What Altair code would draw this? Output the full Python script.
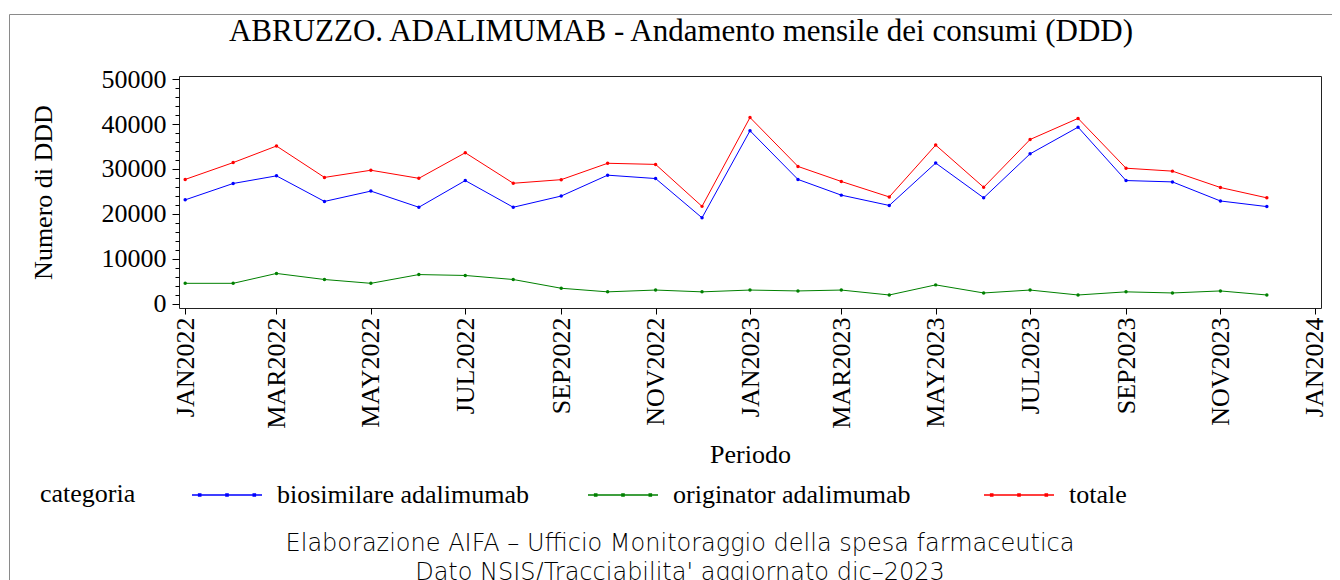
import altair as alt
import pandas as pd

# ---------------- data ----------------
MESI = ["2022-01-01", "2022-02-01", "2022-03-01", "2022-04-01", "2022-05-01", "2022-06-01",
        "2022-07-01", "2022-08-01", "2022-09-01", "2022-10-01", "2022-11-01", "2022-12-01",
        "2023-01-01", "2023-02-01", "2023-03-01", "2023-04-01", "2023-05-01", "2023-06-01",
        "2023-07-01", "2023-08-01", "2023-09-01", "2023-10-01", "2023-11-01", "2023-12-01"]
CATEGORIE = ["biosimilare adalimumab", "originator adalimumab", "totale"]
BIOSIMILARE = [23100, 26750, 28450, 22750, 25050, 21450, 27400, 21450, 23950, 28600, 27850, 19100,
               38500, 27650, 24150, 21850, 31300, 23550, 33350, 39300, 27400, 27100, 22850, 21600]
ORIGINATOR = [4500, 4500, 6700, 5350, 4500, 6450, 6250, 5350, 3400, 2600, 3000, 2600,
              3000, 2800, 3000, 1900, 4150, 2350, 3000, 1900, 2600, 2350, 2800, 1900]
TOTALE = [27650, 31400, 35100, 28100, 29700, 27900, 33600, 26800, 27600, 31250, 31000, 21650,
          41450, 30550, 27200, 23750, 35300, 25900, 36550, 41250, 30150, 29500, 25850, 23550]
COLORI = ["#0000ff", "#008000", "#ff0000"]

TICK_MESI = ["2022-01", "2022-03", "2022-05", "2022-07", "2022-09", "2022-11",
             "2023-01", "2023-03", "2023-05", "2023-07", "2023-09", "2023-11", "2024-01"]
Y_MAJOR = [0, 10000, 20000, 30000, 40000, 50000]
Y_MINOR = [2000, 4000, 6000, 8000, 12000, 14000, 16000, 18000, 22000, 24000, 26000, 28000,
           32000, 34000, 36000, 38000, 42000, 44000, 46000, 48000]

TITOLO = "ABRUZZO. ADALIMUMAB - Andamento mensile dei consumi (DDD)"
LEGENDA_TITOLO = "categoria"
NOTE = ["Elaborazione AIFA \u2013 Ufficio Monitoraggio della spesa farmaceutica",
        "Dato NSIS/Tracciabilita' aggiornato dic\u20132023"]

rows = []
for cat, serie in zip(CATEGORIE, [BIOSIMILARE, ORIGINATOR, TOTALE]):
    for m, v in zip(MESI, serie):
        rows.append({"mese": m, "categoria": cat, "ddd": v})
df = pd.DataFrame(rows)


def dt(s, day=1):
    y, m = s.split("-")[:2]
    return alt.DateTime(year=int(y), month=int(m), date=day, utc=True)


SERIF = "Liberation Serif"
X_SCALE = alt.Scale(type="utc", domain=[dt("2021-12", 28), dt("2024-01", 5)], nice=False)
Y_SCALE = alt.Scale(domain=[-1000, 50700], nice=False, zero=False)

X_AXIS = alt.Axis(values=[dt(t) for t in TICK_MESI],
                  labelExpr="upper(utcFormat(datum.value, '%b%Y'))",
                  labelAngle=270, labelAlign="right", labelBaseline="middle",
                  tickSize=6, labelPadding=3, labelOverlap=False, labelFlush=False,
                  title="Periodo", titlePadding=13)

LEG_PATH = ("M-1,0H1"
            "M-0.81,-0.03h0.06v0.06h-0.06z"
            "M-0.03,-0.03h0.06v0.06h-0.06z"
            "M0.75,-0.03h0.06v0.06h-0.06z")

# ---------------- layers ----------------
border = alt.Chart(pd.DataFrame({"k": [0]})).mark_rect(
    fill="transparent", stroke="#8a8a8a", strokeWidth=1
).encode(
    x=alt.value(-169.5), x2=alt.value(1400), y=alt.value(-61.5), y2=alt.value(700)
)

lines = alt.Chart(df).mark_line(
    strokeWidth=1, point=alt.OverlayMarkDef(filled=True, size=12)
).encode(
    x=alt.X("mese:T", scale=X_SCALE, axis=X_AXIS),
    y=alt.Y("ddd:Q", scale=Y_SCALE,
            axis=alt.Axis(values=Y_MAJOR, format="d", tickSize=7, labelPadding=6,
                          labelFlush=False, labelOverlap=False,
                          title="Numero di DDD", titlePadding=45)),
    color=alt.Color("categoria:N",
                    scale=alt.Scale(domain=CATEGORIE, range=COLORI),
                    legend=alt.Legend(title=None, orient="none", legendX=12, legendY=383,
                                      direction="horizontal", columns=3, gridAlign="all",
                                      labelFont=SERIF, labelFontSize=26, labelColor="black",
                                      labelLimit=0,
                                      labelOffset=14, columnPadding=56, padding=0,
                                      symbolType=LEG_PATH, symbolSize=4900,
                                      symbolStrokeWidth=1.5)),
)

minor = alt.Chart(df).mark_point(opacity=0).encode(
    x=alt.X("mese:T", scale=X_SCALE, axis=X_AXIS),
    y=alt.Y("ddd:Q", scale=Y_SCALE,
            axis=alt.Axis(orient="left", values=Y_MINOR, labels=False, tickSize=4,
                          title=None, domain=False, grid=False)),
)

title = alt.Chart(pd.DataFrame({"t": [TITOLO]})).mark_text(
    font=SERIF, fontSize=31, color="black", align="center", baseline="alphabetic"
).encode(text="t:N", x=alt.value(502), y=alt.value(-35))

leg_title = alt.Chart(pd.DataFrame({"t": [LEGENDA_TITOLO]})).mark_text(
    font=SERIF, fontSize=26, color="black", align="left", baseline="middle"
).encode(text="t:N", x=alt.value(-139), y=alt.value(418))

nota1 = alt.Chart(pd.DataFrame({"t": [NOTE[0]]})).mark_text(
    font="DejaVu Sans", fontWeight=200, fontSize=24, color="black", align="center",
    baseline="alphabetic"
).encode(text="t:N", x=alt.value(501), y=alt.value(475))

nota2 = alt.Chart(pd.DataFrame({"t": [NOTE[1]]})).mark_text(
    font="DejaVu Sans", fontWeight=200, fontSize=24, color="black", align="center",
    baseline="alphabetic"
).encode(text="t:N", x=alt.value(501), y=alt.value(504))

chart = alt.layer(border, lines, minor, title, leg_title, nota1, nota2).resolve_axis(
    y="independent"
).properties(
    width=1142, height=232,
    autosize=alt.AutoSizeParams(type="none"),
    padding={"left": 171, "top": 68, "right": 11, "bottom": 272},
    background="white",
).configure_view(
    stroke="#222222", strokeWidth=1
).configure_axis(
    labelFont=SERIF, labelFontSize=26, labelColor="black",
    titleFont=SERIF, titleFontSize=26, titleFontWeight="normal", titleColor="black",
    tickColor="black", tickWidth=1, domain=False, grid=False,
)

chart.save("out.html", embed_options={"renderer": "svg", "actions": False})
